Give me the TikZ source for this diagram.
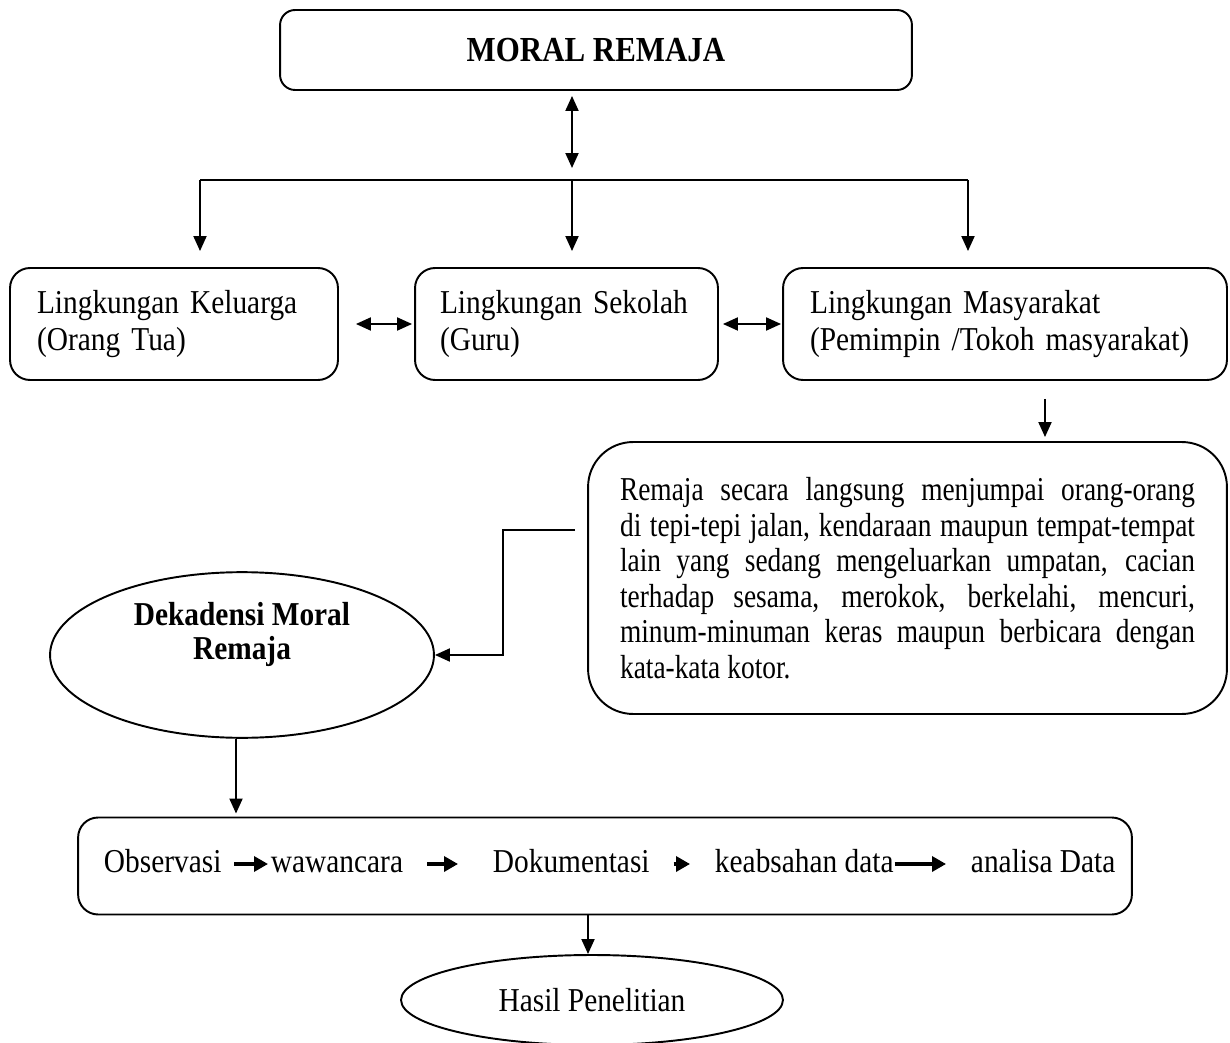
\documentclass[tikz,border=0pt]{standalone}
\usepackage{fontspec}
\setmainfont{Liberation Serif}[FakeStretch=0.88]
\newfontfamily\sempit{Liberation Serif}[FakeStretch=0.82]
\usetikzlibrary{positioning,calc,shapes,arrows.meta}

\begin{document}
\begin{tikzpicture}[x=0.02cm,y=-0.02cm,
	font=\fontsize{19}{21.6}\selectfont,
	line width=1.1pt,
	kotak/.style={draw, rounded corners=0.4cm, align=left, minimum height=2.24cm, inner xsep=0.54cm},
	panah/.style={-{Triangle[length=0.3cm,width=0.26cm]}},
	dua/.style={{Triangle[length=0.3cm,width=0.26cm]}-{Triangle[length=0.3cm,width=0.26cm]}},
	tebal/.style={-{Triangle[length=0.28cm,width=0.3cm]}, line width=1.9pt},
	kata/.style={inner sep=0pt, anchor=west, text height=0.46cm, text depth=0.13cm}]
						\useasboundingbox (0,0) rectangle (1230,1043);

						\node[draw, rounded corners=0.3cm, minimum width=12.64cm, minimum height=1.6cm, font=\fontsize{20}{22}\selectfont\bfseries] (moral) at (596,50) {MORAL REMAJA};
						\coordinate (kiri) at (200,180);
						\coordinate (tengah) at (572,180);
						\coordinate (kanan) at (968,180);

						\node[kotak, minimum width=6.56cm, text width=5.48cm] (keluarga) at (174,324) {Lingkungan Keluarga\\(Orang Tua)};
						\node[kotak, minimum width=6.06cm, text width=5.06cm, inner xsep=0.5cm] (sekolah) at (566.5,324) {Lingkungan Sekolah\\(Guru)};
						\node[kotak, minimum width=8.88cm, text width=7.8cm] (masyarakat) at (1005,324) {Lingkungan Masyarakat\\(Pemimpin /Tokoh masyarakat)};

						\draw[dua, shorten <=0.1cm, shorten >=0.24cm] (moral.south -| tengah) -- (tengah);
						\draw (kiri) -- (kanan);
						\draw[panah, shorten >=0.32cm] (kiri) -- (keluarga.north -| kiri);
						\draw[panah, shorten >=0.32cm] (tengah) -- (sekolah.north -| tengah);
						\draw[panah, shorten >=0.32cm] (kanan) -- (masyarakat.north -| kanan);
						\draw[dua, shorten <=0.34cm, shorten >=0.04cm] (keluarga) -- (sekolah);
						\draw[dua, shorten <=0.08cm, shorten >=0.02cm] (sekolah) -- (masyarakat);

						\node[draw, rounded corners=0.9cm, minimum width=12.78cm, minimum height=5.44cm, text width=11.5cm, align=left, inner sep=0pt,
							font=\sempit\fontsize{19}{20.2}\selectfont] (uraian) at (907.5,578) {\spaceskip=4pt plus 12pt minus 1pt\relax
							\makebox[11.5cm][s]{Remaja secara langsung menjumpai orang-orang}\\
							\makebox[11.5cm][s]{di tepi-tepi jalan, kendaraan maupun tempat-tempat}\\
							\makebox[11.5cm][s]{lain yang sedang mengeluarkan umpatan, cacian}\\
							\makebox[11.5cm][s]{terhadap sesama, merokok, berkelahi, mencuri,}\\
							\makebox[11.5cm][s]{minum-minuman keras maupun berbicara dengan}\\
							kata-kata kotor.};
						\coordinate (turun) at (1045,400);
						\draw[panah, shorten <=0.36cm, shorten >=0.08cm] (masyarakat.south -| turun) -- (uraian.north -| turun);

						\node[draw, ellipse, minimum width=7.68cm, minimum height=3.3cm, align=center, text depth=0.96cm, font=\fontsize{19}{19.5}\selectfont\bfseries] (dekadensi) at (242,655) {Dekadensi Moral\\Remaja};
						\coordinate (pangkal) at (575,530);
						\draw[panah] (pangkal) -- ++(-72,0) |- (dekadensi.east);

						\node[draw, rounded corners=0.4cm, minimum width=21.08cm, minimum height=1.94cm] (metode) at (605,866) {};
						\coordinate (kolom) at (236,800);
						\draw[panah, shorten >=0.06cm] (dekadensi.south -| kolom) -- (metode.north -| kolom);

						\node[kata] (observasi) at (103,864) {Observasi};
						\node[kata] (wawancara) at (270,864) {wawancara};
						\node[kata] (dokumentasi) at (492,864) {Dokumentasi};
						\node[kata] (keabsahan) at (714,864) {keabsahan data};
						\node[kata] (analisa) at (970,864) {analisa Data};
						\draw[tebal, shorten <=0.24cm, shorten >=0.04cm] (observasi) -- (wawancara);
						\draw[tebal, shorten <=0.46cm, shorten >=0.68cm] (wawancara) -- (dokumentasi);
						\draw[tebal, shorten <=0.46cm, shorten >=0.48cm] (dokumentasi) -- (keabsahan);
						\draw[tebal, shorten >=0.48cm] (keabsahan) -- (analisa);

						\node[draw, ellipse, minimum width=7.64cm, minimum height=1.8cm] (hasil) at (592,1000) {Hasil Penelitian};
						\coordinate (bawah) at (588,940);
						\draw[panah] (metode.south -| bawah) -- (hasil.north -| bawah);
					\end{tikzpicture}
\end{document}
